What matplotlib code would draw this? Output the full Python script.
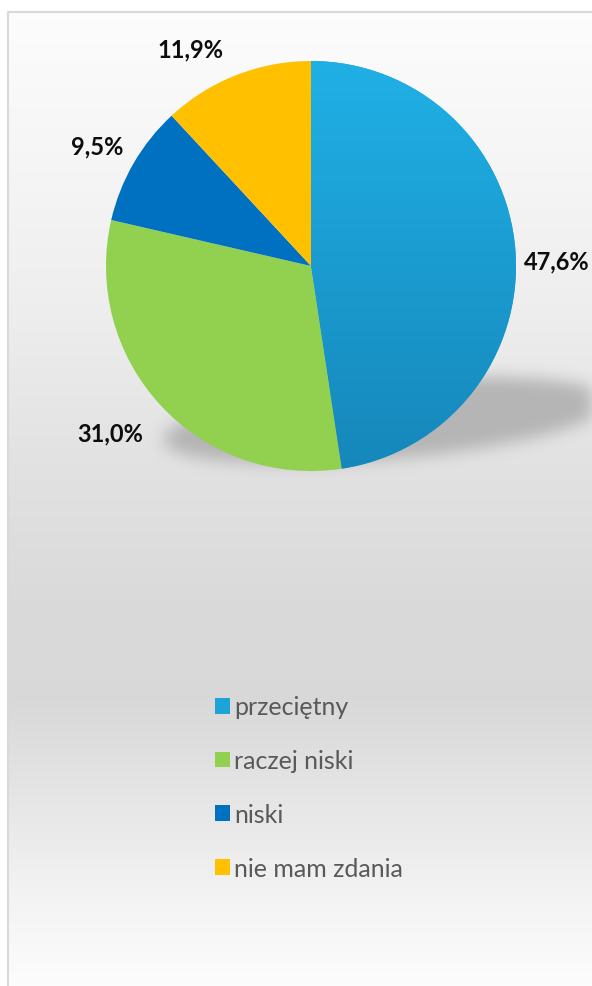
import numpy as np
import matplotlib
matplotlib.use("Agg")
import matplotlib.pyplot as plt
from matplotlib.colors import LinearSegmentedColormap

# data
categories = ['przeciętny', 'raczej niski', 'niski', 'nie mam zdania']
values = [47.6, 31.0, 9.5, 11.9]
colors = ['#1ca4d8', '#92d050', '#0070c0', '#ffc000']

plt.rcParams['font.family'] = ['Lato', 'DejaVu Sans']

W, H = 592, 987
fig = plt.figure(figsize=(W / 100, H / 100), dpi=100)

# background: vertical grey gradient + soft shadow ellipse under the pie
bg = fig.add_axes([0, 0, 1, 1])
bg.set_xlim(0, W)
bg.set_ylim(H, 0)
bg.axis('off')

yy, xx = np.mgrid[0:H, 0:W].astype(float)
stops_y = [12, 150, 300, 450, 600, 700, 800, 900, 987]
stops_v = [0.99, 0.965, 0.935, 0.89, 0.855, 0.85, 0.90, 0.955, 0.99]
grey = np.interp(yy, stops_y, stops_v)

# shadow ellipse
cx, cy, a, b, ang = 386, 421, 224, 39, np.deg2rad(-5)
dx, dy = xx - cx, yy - cy
u = dx * np.cos(ang) + dy * np.sin(ang)
v = -dx * np.sin(ang) + dy * np.cos(ang)
mask = ((u / a) ** 2 + (v / b) ** 2 <= 1).astype(float)
k = np.exp(-0.5 * (np.arange(-20, 21) / 8.0) ** 2)
k /= k.sum()
mask = np.apply_along_axis(lambda r: np.convolve(r, k, mode='same'), 1, mask)
mask = np.apply_along_axis(lambda c: np.convolve(c, k, mode='same'), 0, mask)
grey = grey * (1 - mask) + 0.71 * mask

inside = (xx >= 7) & (yy >= 12)
grey = np.where(inside, grey, 1.0)
img = np.dstack([grey, grey, grey])
bg.imshow(img, extent=(0, W, H, 0), interpolation='bilinear', aspect='auto')
bg.plot([7.5, 7.5, W], [H, 12.5, 12.5], color='#d9d9d9', lw=1.5)

# pie
R = 205
L = 1.5
S = 2 * L * R
pcx, pcy = 311, 267
ax = fig.add_axes([(pcx - S / 2) / W, (H - pcy - S / 2) / H, S / W, S / H])
ax.set_xlim(-L, L)
ax.set_ylim(-L, L)
ax.axis('off')

wedges, texts, autotexts = ax.pie(
    values, colors=colors, startangle=90, counterclock=False, radius=1,
    autopct=lambda p: f'{p:.1f}%'.replace('.', ','), pctdistance=1.2,
    textprops=dict(fontsize=17, fontweight='bold', color='#0d0d0d'),
    wedgeprops=dict(linewidth=0))

# nudge labels (pixels, x right / y down) like excel "best fit"
label_nudge = [(0, 13), (-20, 0), (-1, 3), (-31, 12)]
for t, (nx, ny) in zip(autotexts, label_nudge):
    x, y = t.get_position()
    t.set_position((x + nx / R, y - ny / R))
    t.set_clip_on(False)

# gradient on the first slice
grad = LinearSegmentedColormap.from_list('g', ['#1687ba', '#20b0e6'])
gimg = ax.imshow(np.linspace(0, 1, 256).reshape(-1, 1), cmap=grad, origin='lower',
                 extent=(-1, 1, -1, 1), aspect='auto', zorder=wedges[0].get_zorder() + 0.1)
gimg.set_clip_path(wedges[0])
ax.set_xlim(-L, L)
ax.set_ylim(-L, L)

leg = fig.legend(wedges, categories, loc='upper left',
                 bbox_to_anchor=(202 / W, 1 - 684 / H), frameon=False,
                 fontsize=18, handlelength=0.6, handleheight=0.6,
                 handletextpad=0.2, labelspacing=1.23, borderpad=0)
for t in leg.get_texts():
    t.set_color('#595959')

fig.savefig('out.png', dpi=100)
